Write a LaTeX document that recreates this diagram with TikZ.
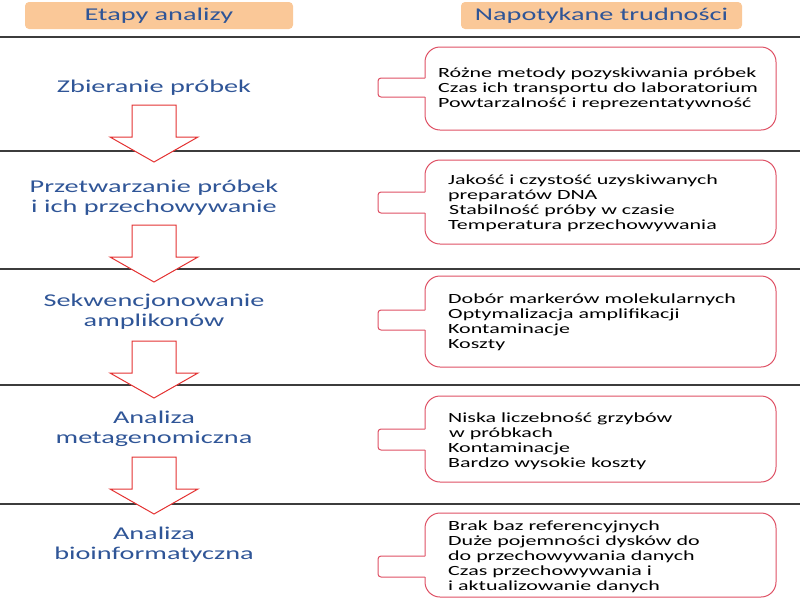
\documentclass[tikz,border=0pt]{standalone}
\usepackage{fontspec}
\setmainfont{Carlito}[FakeStretch=1.57]
\definecolor{hdrfill}{RGB}{250,200,152}
\definecolor{lblblue}{RGB}{47,85,151}
\definecolor{boxred}{RGB}{222,80,100}
\definecolor{arrred}{RGB}{228,50,50}
\definecolor{rulegray}{RGB}{60,60,60}
\begin{document}
\begin{tikzpicture}[x=1pt,y=-1pt,
  hdr/.style={fill=hdrfill,rounded corners=4pt,minimum height=27pt,inner sep=0pt,font=\fontsize{18}{20}\selectfont,text=lblblue},
  lbl/.style={align=center,font=\fontsize{18}{19.5}\selectfont,text=lblblue,inner sep=0pt,anchor=base},
  btxt/.style={align=left,font=\fontsize{14}{15}\selectfont,inner sep=0pt,anchor=base west},
  rule/.style={draw=rulegray,line width=1.2pt},
  callout/.style={draw=boxred,line width=1pt},
  blockarr/.style={draw=arrred,fill=white,line width=1pt,line join=miter}
]
\useasboundingbox (0,0) rectangle (800,600);
% headers
\node[hdr,minimum width=268pt] (h1) at (159,15.5) {Etapy analizy};
\node[hdr,minimum width=281pt] (h2) at (601.5,15.5) {Napotykane trudności};
% rules
\foreach \yy in {37,151,269,385,504}{\draw[rule] (0,\yy) -- (800,\yy);}
% block arrows
\foreach \t in {105,225,341,457}{
  \draw[blockarr] (132,\t) -- (176,\t) -- (176,\t+32) -- (198,\t+32) -- (154,\t+57) -- (110,\t+32) -- (132,\t+32) -- cycle;
}
% left labels (anchor = baseline of the last line)
\node[lbl] (s1) at (154,92) {Zbieranie próbek};
\node[lbl] (s2) at (154,212) {Przetwarzanie próbek\\i ich przechowywanie};
\node[lbl] (s3) at (154,326) {Sekwencjonowanie\\amplikonów};
\node[lbl] (s4) at (154,443) {Analiza\\metagenomiczna};
\node[lbl] (s5) at (154,559) {Analiza\\bioinformatyczna};
% callout boxes: top, bottom, tab top, tab bottom
\foreach \bt/\bb/\tt/\tb in {47/130/78/97, 160/244/192/213, 276/367/310/330, 396/482/429/450, 513/597/556/577}{
  \draw[callout,rounded corners=15pt] (425,\tt) -- (425,\bt) -- (776,\bt) -- (776,\bb) -- (425,\bb) -- (425,\tb);
  \draw[callout,rounded corners=3pt] (425,\tb) -- (378,\tb) -- (378,\tt) -- (425,\tt);
}
% box texts (anchor = baseline of the last line)
\node[btxt] (t1) at (438,107) {Różne metody pozyskiwania próbek\\Czas ich transportu do laboratorium\\Powtarzalność i reprezentatywność};
\node[btxt] (t2) at (448,229) {Jakość i czystość uzyskiwanych\\preparatów DNA\\\hspace{1pt}Stabilność próby w czasie\\Temperatura przechowywania};
\node[btxt] (t3) at (448,348) {Dobór markerów molekularnych\\Optymalizacja amplifikacji\\Kontaminacje\\Koszty};
\node[btxt] (t4) at (448,467) {Niska liczebność grzybów\\\hspace{1pt}w próbkach\\Kontaminacje\\Bardzo wysokie koszty};
\node[btxt] (t5) at (448,590) {Brak baz referencyjnych\\Duże pojemności dysków do\\do przechowywania danych\\Czas przechowywania i\\i aktualizowanie danych};
\end{tikzpicture}
\end{document}
